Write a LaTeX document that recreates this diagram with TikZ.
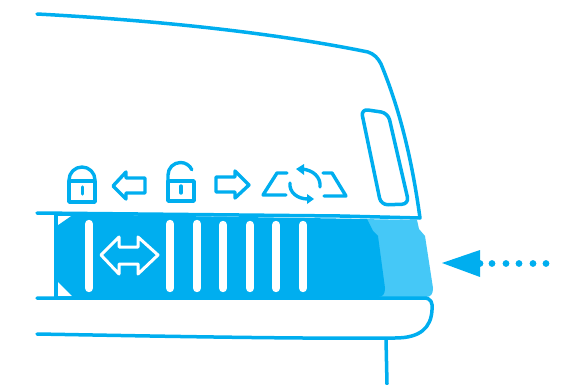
\documentclass[tikz,border=0pt]{standalone}
\usepackage{xcolor}
\usetikzlibrary{calc}
\definecolor{capblue}{HTML}{00AEEF}
\definecolor{caplight}{HTML}{45C8F7}
\begin{document}
\begin{tikzpicture}[x=1pt,y=-1pt]
   \tikzstyle{outline}=[draw=capblue, line width=3.5pt, line join=round, line cap=round]
   \tikzstyle{icon}=[draw=capblue, line width=3.4pt, line join=round, line cap=round]
   \tikzstyle{bar}=[white, line width=8.4pt, line cap=round]
   \useasboundingbox (0,0) rectangle (578,385);
   %% band
 \fill[caplight] (360,219) to (417,220) to (419,229) to (425,236) to (433,288) .. controls (433,294) and (431,297) .. (426,297) to (360,298) -- cycle;
 \fill[capblue] (56,214) to (367,219) to (373,231) to (378,236) to (385,288) .. controls (385,294) and (383,297) .. (378,297) to (56,298) -- cycle;
 \fill[white] (58,216) to (71,216) to (58,225) -- cycle;
 \fill[white] (58,282) to (72,296) to (58,296) -- cycle;
 \foreach \x/\t in {89/224,170/224,197/224,223/225,250/225,276/225,303/225}
    \draw[bar] (\x,\t) to (\x,288);
 \draw[white, line width=3pt, line join=round] (101,255) to (119,237) to (119,247) to (138,247) to (138,237) to (158,255) to (138,274) to (138,264) to (119,264) to (119,274) -- cycle;
   %% housing
 \draw[outline] (37,14) .. controls (150,20) and (270,32) .. (368,52) .. controls (374,54) and (378,58) .. (381,64) .. controls (400,110) and (412,160) .. (420,218) to (340,216) to (37,213);
 \draw[outline, rounded corners=7pt] (361,109) to (388,113) to (409,204) to (381,205) -- cycle;
 \draw[outline] (37,298) to (424,298) .. controls (431,298) and (433,303) .. (432,310) .. controls (431,328) and (420,338) .. (395,338) .. controls (300,339) and (150,336) .. (37,334);
 \draw[outline] (386,339) to (387,384);
 \draw[capblue, line width=2pt] (55,214) to (55,298);
   %% closed lock
 \draw[icon] (69,181) rectangle (95,202);
 \draw[icon] (69,181) to (69,180) arc (180:360:13) to (95,181);
 \draw[icon] (82.5,187) to (82.5,194);
   %% left arrow
 \draw[icon] (113,186) to (126,172) to (126,178) to (145,178) to (145,193) to (126,193) to (126,199) -- cycle;
   %% open lock
 \draw[icon] (168,181) rectangle (194,201);
 \draw[icon] (168,181) to (168,175) arc (180:335:12.5);
 \draw[icon] (181,186) to (181,193);
   %% right arrow
 \draw[icon] (249,185) to (235,171) to (235,177) to (216,177) to (216,192) to (235,192) to (235,198) -- cycle;
   %% tilt icons
 \draw[icon] (287,173) to (277,173) to (263,195) to (286,195);
 \draw[icon] (323,173) to (332,173) to (346,196) to (324,196);
 \draw[icon] (320,187) .. controls (321,177) and (313,170) .. (302,169);
 \draw[icon] (290,183) .. controls (289,192) and (297,199) .. (308,199);
 \fill[capblue] (296,169) to (304,164) to (304,175) -- cycle;
 \fill[capblue] (314,199) to (307,194) to (307,204) -- cycle;
   %% pointer
 \fill[capblue] (442,263) to (480,250) to (480,277) -- cycle;
 \foreach \x in {480,492,506,519,533,546}
    \fill[capblue] (\x,263.5) circle (3.4pt);
\end{tikzpicture}
\end{document}
